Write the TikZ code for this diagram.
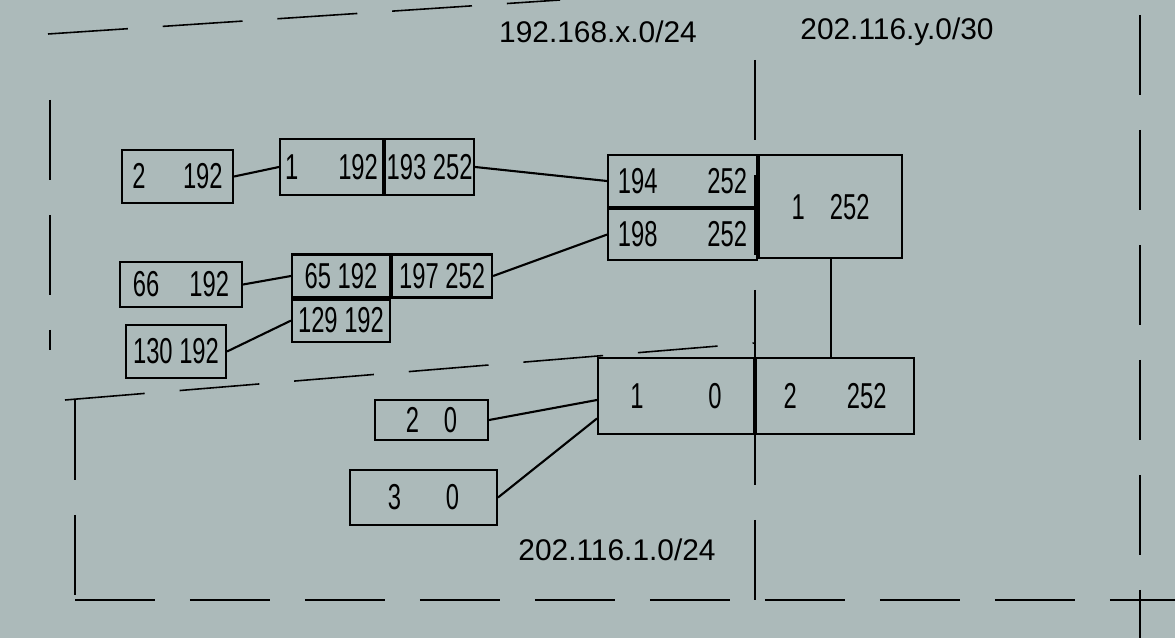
\documentclass[tikz,border=0pt]{standalone}
\usepackage{fontspec}
\setmainfont{Liberation Sans}
\newfontfamily\hand[FakeStretch=0.66]{Liberation Sans}
\usetikzlibrary{positioning,calc}
\definecolor{paper}{RGB}{172,186,186}
\tikzset{
  cell/.style={draw, line width=1.2pt, inner sep=0pt, font=\hand\fontsize{20.5}{22}\selectfont},
  link/.style={line width=1.2pt},
  zone/.style={line width=0.9pt, dash pattern=on 1.6cm off 0.7cm},
  tag/.style={font=\fontsize{17}{20}\selectfont}
}
\begin{document}
\begin{tikzpicture}[x=0.02cm,y=-0.02cm]
    \fill[paper] (0,0) rectangle (1175,638);
    \useasboundingbox (0,0) rectangle (1175,638);

    % zones
    \draw[zone] (48,34) -- (560,0);
    \draw[zone] (50,100) -- (50,350);
    \draw[zone] (65,400) -- (755,343);
    \draw[zone] (75,400) -- (75,615);
    \draw[zone] (75,600) -- (1175,600);
    \draw[zone] (755,60) -- (755,630);
    \draw[zone] (1140,15) -- (1140,638);

    \node[tag] (net1) at (598,32) {192.168.x.0/24};
    \node[tag] (net2) at (897,32) {202.116.y.0/30};
    \node[tag] (net3) at (617,550) {202.116.1.0/24};

    % 192.168.x.0/24
    \node[cell, minimum width=2.22cm, minimum height=1.06cm] (h2) at (177.5,176.5) {2\hspace{0.75cm}192};
    \node[cell, minimum width=2.06cm, minimum height=1.12cm] (r1a) at (331.5,167) {1\hspace{0.8cm}192};
    \node[cell, minimum width=1.78cm, minimum height=1.12cm, right=0pt of r1a] (r1b) {193 252};

    \node[cell, minimum width=2.44cm, minimum height=0.9cm] (h66) at (181,284.5) {66\hspace{0.6cm}192};
    \node[cell, minimum width=1.96cm, minimum height=0.86cm] (r2a) at (341,276) {65 192};
    \node[cell, minimum width=2.0cm, minimum height=0.86cm, right=0pt of r2a] (r2b) {197 252};
    \node[cell, minimum width=1.96cm, minimum height=0.84cm, below=0pt of r2a] (r2c) {129 192};
    \node[cell, minimum width=2.0cm, minimum height=1.06cm] (h130) at (176,351.5) {130 192};

    % 202.116.y.0/30
    \node[cell, minimum width=2.98cm, minimum height=1.03cm] (r3a) at (682.5,181) {194\hspace{1cm}252};
    \node[cell, minimum width=2.98cm, minimum height=1.03cm, below=0pt of r3a] (r3b) {198\hspace{1cm}252};
    \node[cell, minimum width=2.86cm, minimum height=2.06cm, right=0pt of r3a.north east, anchor=north west] (r3c) {1\hspace{0.5cm}252};

    % 202.116.1.0/24
    \node[cell, minimum width=3.12cm, minimum height=1.52cm] (r4a) at (676,396) {1\hspace{1.3cm}0};
    \node[cell, minimum width=3.16cm, minimum height=1.52cm, right=0pt of r4a] (r4b) {2\hspace{1cm}252};
    \node[cell, minimum width=2.26cm, minimum height=0.8cm] (h2b) at (431.5,420) {2\hspace{0.5cm}0};
    \node[cell, minimum width=2.94cm, minimum height=1.1cm] (h3) at (423.5,497.5) {3\hspace{0.9cm}0};

    % links
    \draw[link] (h2.east) -- (r1a.west);
    \draw[link] (r1b.east) -- (r3a.west);
    \draw[link] (h66.east) -- (r2a.west);
    \draw[link] (h130.east) -- (r2c.west);
    \draw[link] (r2b.east) -- (r3b.west);
    \draw[link] (r3c.south) -- (r3c.south |- r4b.north);
    \draw[link] (h2b.east) -- ([yshift=-0.08cm]r4a.west);
    \draw[link] (h3.east) -- ([yshift=-0.45cm]r4a.west);
\end{tikzpicture}
\end{document}
